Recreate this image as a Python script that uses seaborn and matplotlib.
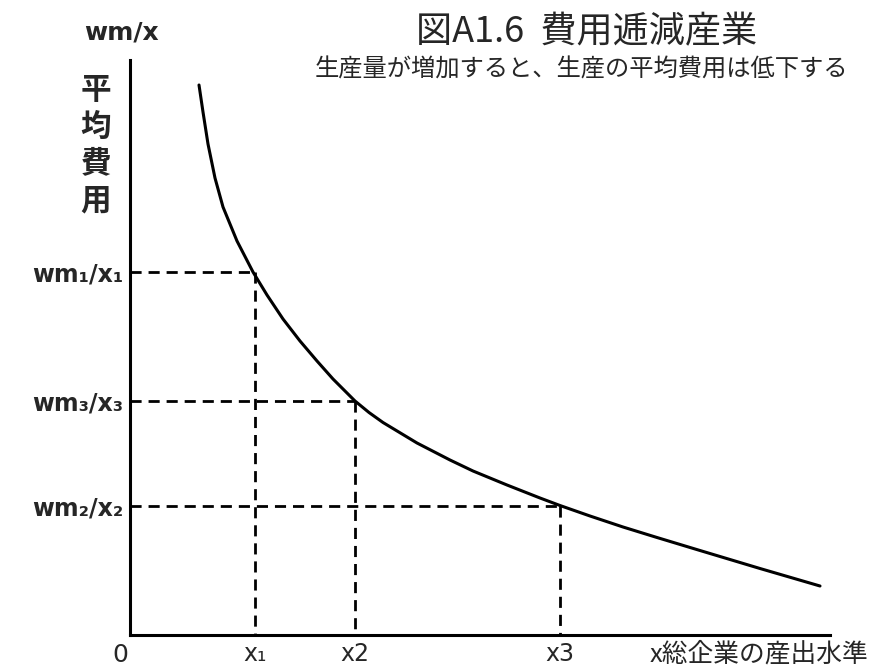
import numpy as np
import pandas as pd
import matplotlib
matplotlib.use("Agg")
import matplotlib.pyplot as plt
import seaborn as sns

sns.set_style("white")
plt.rcParams['font.family'] = ['Noto Sans CJK JP', 'DejaVu Sans']

# average cost curve
output_x = [69, 73, 78, 85, 93, 107, 123, 137, 153, 170, 187, 203, 225, 239, 253,
            287, 320, 343, 377, 410, 430, 460, 493, 527, 570, 630, 690]
avg_cost = [550, 523, 491, 457, 428, 394, 363, 340, 316, 294, 274, 256, 234, 222.5, 212.5,
            192, 175, 164, 150, 137, 129.5, 119, 108, 97.5, 84.5, 66.5, 49]

# marked points on the curve
mark_x = [125, 225, 430]
mark_y = [363, 234, 129.5]
xtick_labels = ['x\u2081', 'x2', 'x3']
ytick_labels = ['wm\u2081/x\u2081', 'wm\u2083/x\u2083', 'wm\u2082/x\u2082']

W, H = 890, 668
fig = plt.figure(figsize=(W / 100, H / 100), dpi=100)
ax = fig.add_axes([130 / W, 33 / H, 700 / W, 575 / H])

df = pd.DataFrame({'x': output_x, 'y': avg_cost})
sns.lineplot(data=df, x='x', y='y', ax=ax, color='black', linewidth=2.2,
             estimator=None, sort=False)

for px, py in zip(mark_x, mark_y):
    ax.plot([0, px], [py, py], color='black', lw=2, dashes=(4, 2.5))
    ax.plot([px, px], [py, 0], color='black', lw=2, dashes=(4, 2.5))

ax.set_xlim(0, 700)
ax.set_ylim(0, 575)
sns.despine(ax=ax)
for s in ['left', 'bottom']:
    ax.spines[s].set_linewidth(2.2)
    ax.spines[s].set_color('black')

ax.set_xticks(mark_x)
ax.set_xticklabels(xtick_labels, fontsize=17, family='DejaVu Sans')
ax.set_yticks(mark_y)
ax.set_yticklabels(ytick_labels, fontsize=17, family='DejaVu Sans', fontweight='bold')
ax.tick_params(length=0, pad=5)
ax.set_xlabel('')
ax.set_ylabel('')

fig.text(120 / W, 1 - 655 / H, '0', fontsize=18, ha='center', va='center',
         family='DejaVu Sans')
fig.text(650 / W, 1 - 654 / H, 'x総企業の産出水準', fontsize=18.5, ha='left', va='center')
fig.text(121 / W, 1 - 32 / H, 'wm/x', fontsize=18, ha='center', va='center',
         family='DejaVu Sans', fontweight='bold')
fig.text(96 / W, 1 - 145 / H, '平\n均\n費\n用', fontsize=22, ha='center', va='center',
         fontweight='bold', linespacing=1.2)
fig.text(587 / W, 1 - 32 / H, '図A1.6  費用逓減産業', fontsize=26, ha='center', va='center')
fig.text(581 / W, 1 - 70 / H, '生産量が増加すると、生産の平均費用は低下する', fontsize=17.5,
         ha='center', va='center')

fig.savefig('out.png', dpi=100)
